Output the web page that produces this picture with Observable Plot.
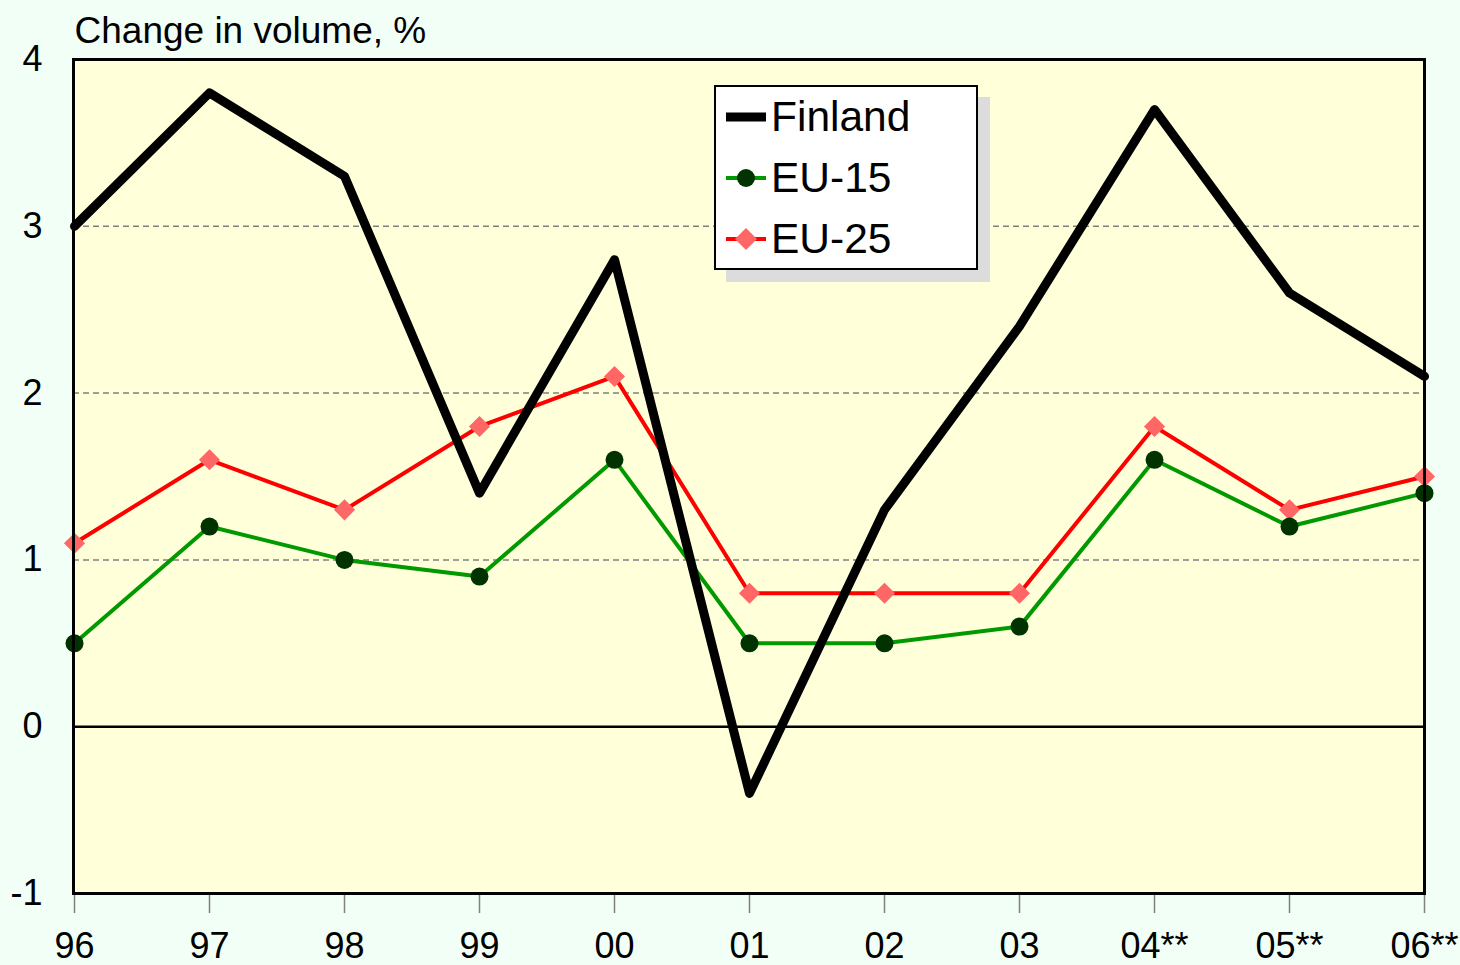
<!DOCTYPE html>
<html>
<head>
<meta charset="utf-8">
<script src="https://cdn.jsdelivr.net/npm/d3@7"></script>
<script src="https://cdn.jsdelivr.net/npm/@observablehq/plot@0.6"></script>
<style>
  html, body { margin: 0; padding: 0; background: #F2FFF6; }
  #wrap { position: relative; width: 1460px; height: 965px; font-family: Arial, "Liberation Sans", sans-serif; }
  #legend {
    position: absolute; left: 714px; top: 85px; width: 260px; height: 181px;
    background: #fff; border: 2px solid #000; box-shadow: 12px 12px 0 #DCDCDC;
  }
  .row { position: absolute; left: 10px; height: 50px; display: flex; align-items: center; }
  .row span { font-size: 42.5px; color: #000; margin-left: 5px; line-height: 1; }
</style>
</head>
<body>
<div id="wrap"><div id="legend"></div></div>
<script>
const years = ["96","97","98","99","00","01","02","03","04**","05**","06**"];
const finland = [3.0, 3.8, 3.3, 1.4, 2.8, -0.4, 1.3, 2.4, 3.7, 2.6, 2.1];
const eu15 = [0.5, 1.2, 1.0, 0.9, 1.6, 0.5, 0.5, 0.6, 1.6, 1.2, 1.4];
const eu25 = [1.1, 1.6, 1.3, 1.8, 2.1, 0.8, 0.8, 0.8, 1.8, 1.3, 1.5];
const seriesNames = ["Finland", "EU-15", "EU-25"];
const yTicks = [-1, 0, 1, 2, 3, 4];
const gridValues = [1, 2, 3];
const titleText = "Change in volume, %";

const toRows = (vals, name) => vals.map((v, i) => ({year: years[i], value: v, series: name}));
const rowsFin = toRows(finland, seriesNames[0]);
const rows15 = toRows(eu15, seriesNames[1]);
const rows25 = toRows(eu25, seriesNames[2]);

const chart = Plot.plot({
  width: 1460,
  height: 965,
  marginLeft: 73,
  marginRight: 36,
  marginTop: 59,
  marginBottom: 72,
  style: {background: "transparent", fontFamily: "Arial, 'Liberation Sans', sans-serif", color: "#000", overflow: "visible"},
  x: {type: "point", domain: years, padding: 0},
  y: {domain: [-1, 4]},
  marks: [
    Plot.frame({fill: "#FFFFDA", stroke: null}),
    Plot.ruleY(gridValues, {stroke: "#808080", strokeWidth: 1.5, strokeDasharray: "6,4"}),
    Plot.ruleY([0], {stroke: "#000", strokeWidth: 2.5}),
    Plot.axisY({ticks: yTicks, tickSize: 0, tickPadding: 31, fontSize: 36, tickFormat: d => String(d), label: null}),
    Plot.axisX({tickSize: 20, tickPadding: 19, stroke: "#808080", strokeWidth: 1.5, fill: "#000", fontSize: 36, label: null}),
    Plot.text([titleText], {frameAnchor: "top-left", textAnchor: "start", lineAnchor: "bottom", dx: 1, dy: -17, fontSize: 37, fill: "#000"}),
    Plot.line(rows25, {x: "year", y: "value", stroke: "#FF0000", strokeWidth: 4}),
    Plot.line(rows15, {x: "year", y: "value", stroke: "#009900", strokeWidth: 4}),
    Plot.dot(rows25, {x: "year", y: "value", symbol: "diamond2", r: 9.5, fill: "#FF6666", stroke: null}),
    Plot.dot(rows15, {x: "year", y: "value", symbol: "circle", r: 9, fill: "#003300", stroke: null}),
    Plot.line(rowsFin, {x: "year", y: "value", stroke: "#000", strokeWidth: 9, strokeLinejoin: "round"}),
    Plot.frame({stroke: "#000", strokeWidth: 3})
  ]
});
document.getElementById("wrap").prepend(chart);

// Legend
const legendStyles = [
  {line: "#000", lw: 9, sym: null},
  {line: "#009900", lw: 4, sym: "circle", fill: "#003300"},
  {line: "#FF0000", lw: 4, sym: "diamond", fill: "#FF6666"}
];
const legend = document.getElementById("legend");
seriesNames.forEach((name, i) => {
  const s = legendStyles[i];
  const row = document.createElement("div");
  row.className = "row";
  row.style.top = (5 + i * 61) + "px";
  let sym = "";
  if (s.sym === "circle") sym = `<circle cx="20" cy="25" r="9" fill="${s.fill}"/>`;
  if (s.sym === "diamond") sym = `<path d="M20,14L31,25L20,36L9,25Z" fill="${s.fill}"/>`;
  row.innerHTML = `<svg width="40" height="50"><line x1="0" x2="40" y1="25" y2="25" stroke="${s.line}" stroke-width="${s.lw}"/>${sym}</svg><span>${name}</span>`;
  legend.appendChild(row);
});
</script>
</body>
</html>
